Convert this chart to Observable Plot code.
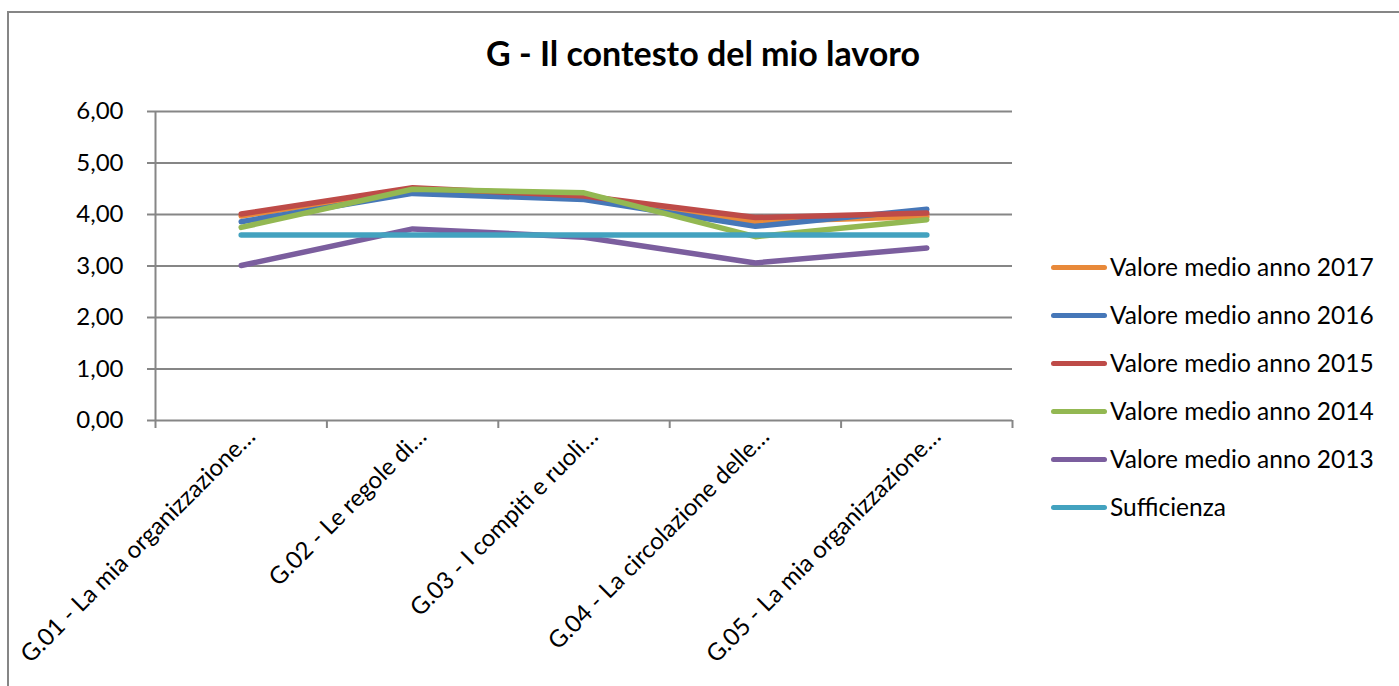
<!DOCTYPE html>
<html>
<head>
<meta charset="utf-8">
<script src="https://cdn.jsdelivr.net/npm/d3@7"></script>
<script src="https://cdn.jsdelivr.net/npm/@observablehq/plot@0.6"></script>
<style>
  html, body { margin: 0; padding: 0; background: #fff; }
  #wrap { position: relative; width: 1399px; height: 686px; overflow: hidden; font-family: Lato, sans-serif; }
  #frame { position: absolute; left: 7px; top: 11px; width: 1500px; height: 800px; border-left: 2px solid #868686; border-top: 2px solid #868686; }
  #title { position: absolute; left: 0; width: 1406px; top: 36px; text-align: center; font: bold 34px/1 Lato, sans-serif; color: #000; }
  #chart { position: absolute; left: 0; top: 0; }
  .leg { position: absolute; left: 1051px; height: 30px; display: flex; align-items: center; font: 24.5px/1 Lato, sans-serif; color: #000; white-space: nowrap; }
  .sw { width: 56px; height: 5px; border-radius: 3px; margin-right: 3px; }
</style>
</head>
<body>
<div id="wrap">
  <div id="frame"></div>
  <div id="chart"></div>
  <div id="title">G - Il contesto del mio lavoro</div>
  <div id="legend"></div>
</div>
<script>
const categories = [
  "G.01 - La mia organizzazione…",
  "G.02 - Le regole di…",
  "G.03 - I compiti e ruoli…",
  "G.04 - La circolazione delle…",
  "G.05 - La mia organizzazione…"
];
const seriesNames = [
  "Valore medio anno 2017",
  "Valore medio anno 2016",
  "Valore medio anno 2015",
  "Valore medio anno 2014",
  "Valore medio anno 2013",
  "Sufficienza"
];
const v2017 = [3.97, 4.48, 4.36, 3.86, 3.96];
const v2016 = [3.86, 4.41, 4.29, 3.77, 4.10];
const v2015 = [4.01, 4.52, 4.36, 3.94, 4.03];
const v2014 = [3.75, 4.49, 4.42, 3.57, 3.90];
const v2013 = [3.01, 3.72, 3.56, 3.06, 3.35];
const sufficienza = [3.60, 3.60, 3.60, 3.60, 3.60];
const seriesColors = ["#E8893A", "#4677B8", "#BE4B48", "#93B852", "#7B5E9E", "#43A2BF"];
const yTicks = [0, 1, 2, 3, 4, 5, 6];

const allValues = [v2017, v2016, v2015, v2014, v2013, sufficienza];
const data = [];
seriesNames.forEach((s, si) => {
  categories.forEach((c, i) => {
    data.push({series: s, idx: i + 0.5, category: c, value: allValues[si][i]});
  });
});

const gray = "#868686";
const chart = Plot.plot({
  width: 1399,
  height: 686,
  marginLeft: 155,
  marginRight: 387,
  marginTop: 111,
  marginBottom: 266,
  style: {fontFamily: "Lato, sans-serif", fontSize: "24px", color: "#000", background: "transparent"},
  x: {domain: [0, categories.length], axis: null},
  y: {domain: [0, 6], axis: null},
  color: {domain: seriesNames, range: seriesColors},
  marks: [
    Plot.gridY({ticks: yTicks.slice(1), stroke: gray, strokeOpacity: 1, strokeWidth: 2}),
    Plot.ruleY([0], {stroke: gray, strokeWidth: 2}),
    Plot.ruleX([0], {stroke: gray, strokeWidth: 2}),
    Plot.axisY({ticks: yTicks, label: null, tickSize: 8, tickPadding: 24, tickFormat: d => d.toFixed(2).replace(".", ","), stroke: gray, strokeWidth: 2, fill: "#000", fontSize: 24}),
    Plot.axisX({ticks: d3.range(categories.length + 1), label: null, tickSize: 8, tickFormat: () => "", stroke: gray, strokeWidth: 2}),
    Plot.axisX({
      ticks: categories.map((c, i) => i + 0.5),
      label: null,
      tickFormat: d => categories[Math.round(d - 0.5)],
      tickSize: 0, tickPadding: 12, tickRotate: -45, textAnchor: "end",
      fill: "#000", fontSize: 24, dx: 10
    }),
    Plot.line(data, {x: "idx", y: "value", z: "series", stroke: "series", strokeWidth: 5.5, strokeLinecap: "round", strokeLinejoin: "round"})
  ]
});
document.getElementById("chart").appendChild(chart);

const legend = document.getElementById("legend");
seriesNames.forEach((s, i) => {
  const row = document.createElement("div");
  row.className = "leg";
  row.style.top = (267 + i * 48 - 15) + "px";
  const sw = document.createElement("div");
  sw.className = "sw";
  sw.style.background = seriesColors[i];
  const t = document.createElement("span");
  t.textContent = s;
  row.appendChild(sw);
  row.appendChild(t);
  legend.appendChild(row);
});
</script>
</body>
</html>
